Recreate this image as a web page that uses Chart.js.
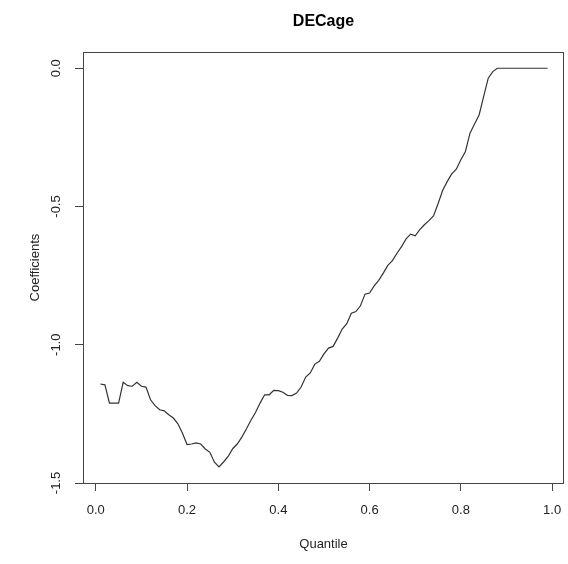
<!DOCTYPE html>
<html>
<head>
<meta charset="utf-8">
<script src="https://cdn.jsdelivr.net/npm/chart.js@4/dist/chart.umd.min.js"></script>
<style>
  html, body { margin: 0; padding: 0; background: #fff; }
  #wrap { width: 568px; height: 564px; }
</style>
</head>
<body>
<div id="wrap"><canvas id="chart" width="568" height="564"></canvas></div>
<script>
const quantiles = [
  0.01, 0.02, 0.03, 0.04, 0.05, 0.06, 0.07, 0.08, 0.09, 0.10,
  0.11, 0.12, 0.13, 0.14, 0.15, 0.16, 0.17, 0.18, 0.19, 0.20,
  0.21, 0.22, 0.23, 0.24, 0.25, 0.26, 0.27, 0.28, 0.29, 0.30,
  0.31, 0.32, 0.33, 0.34, 0.35, 0.36, 0.37, 0.38, 0.39, 0.40,
  0.41, 0.42, 0.43, 0.44, 0.45, 0.46, 0.47, 0.48, 0.49, 0.50,
  0.51, 0.52, 0.53, 0.54, 0.55, 0.56, 0.57, 0.58, 0.59, 0.60,
  0.61, 0.62, 0.63, 0.64, 0.65, 0.66, 0.67, 0.68, 0.69, 0.70,
  0.71, 0.72, 0.73, 0.74, 0.75, 0.76, 0.77, 0.78, 0.79, 0.80,
  0.81, 0.82, 0.83, 0.84, 0.85, 0.86, 0.87, 0.88, 0.89, 0.90,
  0.91, 0.92, 0.93, 0.94, 0.95, 0.96, 0.97, 0.98, 0.99
];

const coefficients = [
  -1.142, -1.145, -1.211, -1.211, -1.211, -1.136, -1.148, -1.150, -1.136, -1.150,
  -1.153, -1.199, -1.220, -1.235, -1.239, -1.253, -1.265, -1.286, -1.320, -1.361,
  -1.359, -1.355, -1.359, -1.377, -1.389, -1.425, -1.442, -1.424, -1.404, -1.376,
  -1.359, -1.334, -1.305, -1.273, -1.245, -1.211, -1.181, -1.181, -1.165, -1.166,
  -1.172, -1.183, -1.184, -1.175, -1.153, -1.117, -1.102, -1.070, -1.060, -1.033,
  -1.012, -1.006, -0.976, -0.943, -0.924, -0.886, -0.880, -0.859, -0.817, -0.813,
  -0.787, -0.767, -0.741, -0.713, -0.696, -0.669, -0.645, -0.617, -0.600, -0.606,
  -0.584, -0.566, -0.551, -0.534, -0.490, -0.442, -0.410, -0.382, -0.365, -0.331,
  -0.301, -0.235, -0.202, -0.169, -0.102, -0.036, -0.012, 0.000, 0.000, 0.000,
  0.000, 0.000, 0.000, 0.000, 0.000, 0.000, 0.000, 0.000, 0.000
];

const xTicks = [0.0, 0.2, 0.4, 0.6, 0.8, 1.0];
const yTicks = [-1.5, -1.0, -0.5, 0.0];

const FONT = '"Liberation Sans", Arial, Helvetica, sans-serif';

// frame around the plot region, like R's box()
const boxPlugin = {
  id: 'box',
  afterDatasetsDraw(chart) {
    const a = chart.chartArea;
    const ctx = chart.ctx;
    ctx.save();
    ctx.strokeStyle = '#444';
    ctx.lineWidth = 1;
    ctx.strokeRect(Math.round(a.left) + 0.5, Math.round(a.top) + 0.5,
                   Math.round(a.right - a.left) - 1, Math.round(a.bottom - a.top));
    ctx.restore();
  }
};

const points = quantiles.map((q, i) => ({ x: q, y: coefficients[i] }));

new Chart(document.getElementById('chart'), {
  type: 'scatter',
  data: {
    datasets: [{
      data: points,
      showLine: true,
      borderColor: '#333',
      borderWidth: 1.2,
      pointRadius: 0,
      tension: 0
    }]
  },
  options: {
    responsive: false,
    animation: false,
    layout: { padding: { left: 0, right: 4, top: 0, bottom: 0 } },
    plugins: {
      legend: { display: false },
      tooltip: { enabled: false },
      title: {
        display: true,
        fullSize: false, // centre over the plot region, as R does
        text: 'DECage',
        color: '#000',
        font: { family: FONT, size: 16, weight: 'bold' },
        padding: { top: 12, bottom: 21 }
      }
    },
    scales: {
      x: {
        type: 'linear',
        min: -0.028,
        max: 1.026,
        afterBuildTicks: s => { s.ticks = xTicks.map(v => ({ value: v })); },
        afterFit: s => { s.height = 81; s.paddingLeft = 0; s.paddingRight = 0; },
        border: { display: false },
        grid: { drawOnChartArea: false, drawTicks: true, tickLength: 8, color: '#444', tickColor: '#444' },
        ticks: {
          color: '#222',
          font: { family: FONT, size: 13 },
          padding: 12,
          maxRotation: 0,
          callback: v => Number(v).toFixed(1)
        },
        title: {
          display: true,
          text: 'Quantile',
          color: '#222',
          font: { family: FONT, size: 13 },
          padding: { top: 0, bottom: 12 }
        }
      },
      y: {
        type: 'linear',
        min: -1.5,
        max: 0.058,
        afterBuildTicks: s => { s.ticks = yTicks.map(v => ({ value: v })); },
        afterFit: s => { s.width = 83; s.paddingTop = 0; s.paddingBottom = 0; },
        border: { display: false },
        grid: { drawOnChartArea: false, drawTicks: true, tickLength: 8, color: '#444', tickColor: '#444' },
        ticks: {
          color: '#222',
          font: { family: FONT, size: 13 },
          padding: 7,
          minRotation: 90,
          maxRotation: 90,
          crossAlign: 'center',
          callback: v => Number(v).toFixed(1)
        },
        title: {
          display: true,
          text: 'Coefficients',
          color: '#222',
          font: { family: FONT, size: 13 },
          padding: { top: 28, bottom: 0 }
        }
      }
    }
  },
  plugins: [boxPlugin]
});
</script>
</body>
</html>
